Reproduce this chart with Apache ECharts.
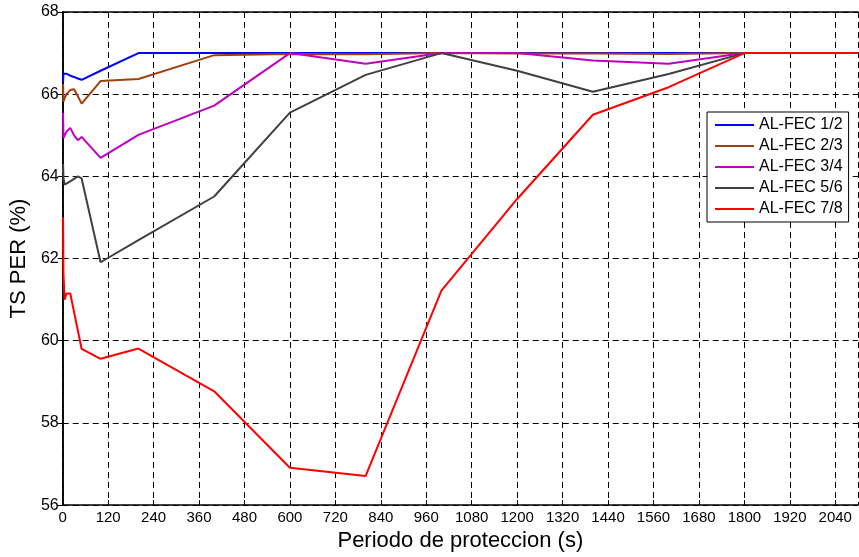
<!DOCTYPE html>
<html>
<head>
<meta charset="utf-8">
<script src="https://cdn.jsdelivr.net/npm/echarts@6/dist/echarts.min.js"></script>
<style>
  html, body { margin: 0; padding: 0; background: #fff; }
  #chart { width: 859px; height: 557px; }
</style>
</head>
<body>
<div id="chart"></div>
<script>
// Protection period (s) at which each AL-FEC code rate was evaluated
const periods = [1, 2, 5, 10, 20, 30, 40, 50, 100, 200, 400, 600, 800, 1000, 1200, 1400, 1600, 1800, 2000, 2100];

// TS PER (%) for each code rate
const fec12 = [66.3, 66.5, 66.5, 66.5, 66.45, 66.42, 66.38, 66.35, 66.57, 67, 67, 67, 67, 67, 67, 67, 67, 67, 67, 67];
const fec23 = [66.25, 65.82, 65.9, 66.0, 66.1, 66.12, 65.95, 65.77, 66.32, 66.37, 66.95, 66.98, 66.97, 67, 66.99, 66.99, 66.98, 67, 67, 67];
const fec34 = [65.55, 64.93, 64.95, 65.09, 65.18, 65.0, 64.88, 64.96, 64.45, 65.01, 65.72, 67.0, 66.74, 67, 67, 66.82, 66.74, 67, 67, 67];
const fec56 = [64.3, 63.96, 63.8, 63.76, 63.88, 63.94, 64.0, 63.95, 61.91, 62.45, 63.51, 65.55, 66.47, 67, 66.57, 66.06, 66.49, 67, 67, 67];
const fec78 = [63.0, 61.65, 61.0, 61.15, 61.15, 60.7, 60.25, 59.8, 59.56, 59.81, 58.77, 56.91, 56.71, 61.22, 63.45, 65.5, 66.17, 67, 67, 67];

const seriesNames = ['AL-FEC 1/2', 'AL-FEC 2/3', 'AL-FEC 3/4', 'AL-FEC 5/6', 'AL-FEC 7/8'];
const seriesValues = [fec12, fec23, fec34, fec56, fec78];
const seriesColors = ['#0000ff', '#a0410d', '#c000c0', '#404040', '#ff0000'];

// Axis ranges
const xMin = 0, xMax = 2100, xStep = 120;
const yMin = 56, yMax = 68, yStep = 2;

const FONT = '"Liberation Sans", Arial, Helvetica, sans-serif';

const chart = echarts.init(document.getElementById('chart'), null, { renderer: 'canvas' });

const frameLine = { show: true, lineStyle: { color: '#000', width: 1.5 } };
const innerTicks = { show: true, inside: true, length: 5, lineStyle: { color: '#000', width: 1 } };
const dashedGrid = { show: true, lineStyle: { color: '#000', width: 1, type: [6, 4] } };
const plainNumber = v => String(v);

chart.setOption({
  animation: false,
  backgroundColor: '#fff',
  grid: { left: 61, right: 1, top: 12, bottom: 51, containLabel: false },
  legend: {
    orient: 'vertical',
    left: 707,
    top: 112,
    padding: [5, 6, 5, 8],
    backgroundColor: '#fff',
    borderColor: '#000',
    borderWidth: 1,
    icon: 'rect',
    itemWidth: 39,
    itemHeight: 2,
    itemGap: 5,
    textStyle: { fontFamily: FONT, fontSize: 16, color: '#000', lineHeight: 16 },
    data: seriesNames
  },
  xAxis: [
    {
      type: 'value', min: xMin, max: xMax, interval: xStep,
      position: 'bottom',
      name: 'Periodo de proteccion (s)',
      nameLocation: 'middle',
      nameGap: 22,
      nameTextStyle: { fontFamily: FONT, fontSize: 22, color: '#000' },
      axisLine: frameLine,
      axisTick: innerTicks,
      axisLabel: { fontFamily: FONT, fontSize: 15, color: '#000', margin: 5, showMaxLabel: false, formatter: plainNumber },
      splitLine: dashedGrid
    },
    {
      type: 'value', min: xMin, max: xMax, interval: xStep,
      position: 'top',
      axisLine: frameLine,
      axisTick: innerTicks,
      axisLabel: { show: false },
      splitLine: { show: false }
    }
  ],
  yAxis: [
    {
      type: 'value', min: yMin, max: yMax, interval: yStep,
      position: 'left',
      name: 'TS PER (%)',
      nameLocation: 'middle',
      nameGap: 26,
      nameRotate: 90,
      nameTextStyle: { fontFamily: FONT, fontSize: 22, color: '#000' },
      axisLine: frameLine,
      axisTick: innerTicks,
      axisLabel: { fontFamily: FONT, fontSize: 16, color: '#000', margin: 4, formatter: plainNumber },
      splitLine: dashedGrid
    },
    {
      type: 'value', min: yMin, max: yMax, interval: yStep,
      position: 'right',
      axisLine: frameLine,
      axisTick: innerTicks,
      axisLabel: { show: false },
      splitLine: { show: false }
    }
  ],
  series: seriesNames.map((name, i) => ({
    name: name,
    type: 'line',
    xAxisIndex: 0,
    yAxisIndex: 0,
    symbol: 'none',
    clip: true,
    color: seriesColors[i],
    lineStyle: { color: seriesColors[i], width: 2 },
    data: periods.map((t, k) => [t, seriesValues[i][k]])
  }))
});
</script>
</body>
</html>
